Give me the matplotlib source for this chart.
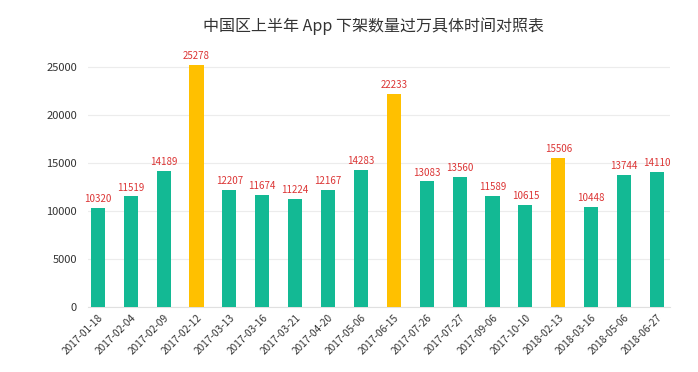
import matplotlib
matplotlib.use("Agg")
import matplotlib.pyplot as plt

plt.rcParams['font.family'] = ['Noto Sans CJK SC', 'DejaVu Sans']

datas = ["2017-01-18", "2017-02-04", "2017-02-09", "2017-02-12", "2017-03-13", "2017-03-16",
         "2017-03-21", "2017-04-20", "2017-05-06", "2017-06-15", "2017-07-26", "2017-07-27",
         "2017-09-06", "2017-10-10", "2018-02-13", "2018-03-16", "2018-05-06", "2018-06-27"]
valores = [10320, 11519, 14189, 25278, 12207, 11674, 11224, 12167, 14283, 22233, 13083, 13560,
           11589, 10615, 15506, 10448, 13744, 14110]
destaque = ["2017-02-12", "2017-06-15", "2018-02-13"]

VERDE = "#13b994"
AMARELO = "#ffc000"

cores = [AMARELO if d in destaque else VERDE for d in datas]

fig = plt.figure(figsize=(6.98, 3.72), dpi=100)
ax = fig.add_axes([0.126, 0.175, 0.834, 0.696])

x = range(len(datas))
ax.bar(x, valores, width=0.43, color=cores, zorder=3)

for i, v in zip(x, valores):
    ax.text(i, v + 400, str(v), ha='center', va='bottom', fontsize=7, color="#dc3535")

ax.set_xlim(-0.3, len(datas) - 0.6)
ax.set_ylim(0, 27000)
ax.set_yticks([0, 5000, 10000, 15000, 20000, 25000])
ax.set_xticks(list(x))
ax.set_xticklabels(datas, rotation=45, ha='right', rotation_mode='anchor', fontsize=7.3, color="#333333")
ax.tick_params(axis='y', labelsize=8, colors="#333333", length=0, pad=8)
ax.tick_params(axis='x', length=0, pad=4)

ax.grid(axis='y', color="#ececec", linewidth=0.8, zorder=0)
for s in ['top', 'right', 'left']:
    ax.spines[s].set_visible(False)
ax.spines['bottom'].set_color("#e0e0e0")

fig.text(0.535, 0.93, "中国区上半年 App 下架数量过万具体时间对照表", ha='center', va='center',
         fontsize=11.5, color="#333333")

fig.savefig("out.png", dpi=100, facecolor="white")
